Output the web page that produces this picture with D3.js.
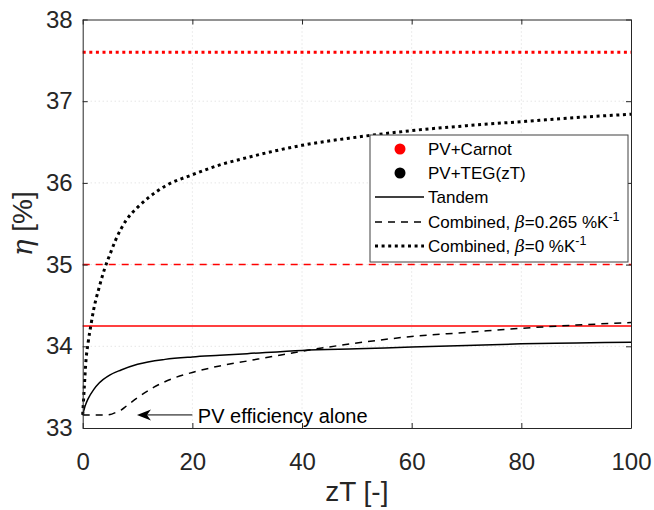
<!DOCTYPE html>
<html><head><meta charset="utf-8">
<script src="https://cdn.jsdelivr.net/npm/d3@7"></script>
<style>body{margin:0;background:#fff}svg{display:block}text{font-family:"Liberation Sans",Arial,sans-serif}</style>
</head><body>
<svg id="c" width="654" height="510"></svg>
<script>
// Data
const xTicks = [0, 20, 40, 60, 80, 100];
const yTicks = [33, 34, 35, 36, 37, 38];
const pvAlone = 33.16;
const carnotTandem = 34.25;
const carnotCombined265 = 35.0;
const carnotCombined0 = 37.6;
const tandemZT = [0, 0.5, 1, 2, 3, 5, 7, 10, 15, 20, 25, 30, 40, 50, 60, 70, 80, 90, 100];
const tandemEta = [33.16, 33.28, 33.36, 33.47, 33.55, 33.65, 33.71, 33.78, 33.84, 33.87, 33.89, 33.91, 33.95, 33.97, 33.99, 34.01, 34.03, 34.04, 34.05];
const comb265ZT = [0, 3, 4, 5, 6, 7, 8, 10, 13, 17, 20, 25, 30, 35, 40, 50, 60, 70, 80, 90, 100];
const comb265Eta = [33.16, 33.16, 33.16, 33.165, 33.19, 33.22, 33.27, 33.37, 33.50, 33.62, 33.68, 33.76, 33.82, 33.88, 33.94, 34.04, 34.12, 34.17, 34.22, 34.26, 34.29];
const comb0ZT = [0, 0.3, 0.6, 1, 1.5, 2, 3, 4, 5, 6, 8, 10, 12, 15, 20, 25, 30, 40, 50, 60, 70, 80, 90, 100];
const comb0Eta = [33.16, 33.51, 33.83, 34.05, 34.26, 34.45, 34.72, 34.95, 35.13, 35.30, 35.55, 35.70, 35.82, 35.96, 36.10, 36.22, 36.31, 36.46, 36.56, 36.64, 36.70, 36.75, 36.80, 36.84];

const svg = d3.select("#c");
const L = 82.7, R = 631, T = 19.5, B = 428;
const x = d3.scaleLinear().domain([0, 100]).range([L, R]);
const y = d3.scaleLinear().domain([33, 38]).range([B, T]);
const axisCol = "#262626";
const FONT = '"Liberation Sans",Arial,sans-serif';

// grid
const g = svg.append("g");
g.selectAll(".gx").data(xTicks.slice(1, -1)).enter().append("line")
  .attr("x1", d => x(d)).attr("x2", d => x(d)).attr("y1", T).attr("y2", B)
  .attr("stroke", "#d9d9d9").attr("stroke-width", 1).attr("stroke-dasharray", "1,3");
g.selectAll(".gy").data(yTicks.slice(1, -1)).enter().append("line")
  .attr("y1", d => y(d)).attr("y2", d => y(d)).attr("x1", L).attr("x2", R)
  .attr("stroke", "#d9d9d9").attr("stroke-width", 1).attr("stroke-dasharray", "1,3");

// horizontal reference lines
function hline(v, col, w, dash) {
  svg.append("line").attr("x1", L).attr("x2", R).attr("y1", y(v)).attr("y2", y(v))
    .attr("stroke", col).attr("stroke-width", w).attr("stroke-dasharray", dash || null);
}
hline(carnotCombined0, "#ff0000", 3, "3,3.6");
hline(carnotCombined265, "#ff0000", 1.5, "7,6");
hline(carnotTandem, "#ff0000", 1.5);

const line = d3.line().x(d => x(d[0])).y(d => y(d[1])).curve(d3.curveMonotoneX);
function curve(xs, ys, w, dash) {
  svg.append("path").datum(xs.map((v, i) => [v, ys[i]])).attr("d", line)
    .attr("fill", "none").attr("stroke", "#000").attr("stroke-width", w)
    .attr("stroke-dasharray", dash || null);
}
curve(tandemZT, tandemEta, 1.5);
curve(comb265ZT, comb265Eta, 1.5, "7,6");
curve(comb0ZT, comb0Eta, 3, "3,3.6");

// axes
const ax = svg.append("g").attr("transform", `translate(0,${B})`)
  .call(d3.axisBottom(x).tickValues(xTicks).tickSizeInner(-5).tickSizeOuter(0).tickPadding(25).tickFormat(d3.format("d")));
const ay = svg.append("g").attr("transform", `translate(${L},0)`)
  .call(d3.axisLeft(y).tickValues(yTicks).tickSizeInner(-5).tickSizeOuter(0).tickPadding(10).tickFormat(d3.format("d")));
const at = svg.append("g").attr("transform", `translate(0,${T})`)
  .call(d3.axisTop(x).tickValues(xTicks).tickSizeInner(-5).tickSizeOuter(0).tickFormat(""));
const ar = svg.append("g").attr("transform", `translate(${R},0)`)
  .call(d3.axisRight(y).tickValues(yTicks).tickSizeInner(-5).tickSizeOuter(0).tickFormat(""));
[ax, ay, at, ar].forEach(a => {
  a.selectAll("path,line").attr("stroke", axisCol);
  a.selectAll("text").attr("fill", axisCol).style("font-size", "24px").style("font-family", FONT);
});

// axis labels
svg.append("text").attr("x", (L + R) / 2).attr("y", 501).attr("text-anchor", "middle")
  .attr("fill", axisCol).style("font-size", "28px").text("zT [-]");
const yl = svg.append("text").attr("transform", `translate(32,${(T + B) / 2}) rotate(-90)`)
  .attr("text-anchor", "middle").attr("fill", axisCol).style("font-size", "28px");
yl.append("tspan").style("font-style", "italic").style("font-family", '"DejaVu Serif",serif').text("η");
yl.append("tspan").text(" [%]");

// annotation
svg.append("line").attr("x1", x(20)).attr("x2", x(10.5)).attr("y1", y(pvAlone)).attr("y2", y(pvAlone))
  .attr("stroke", "#000").attr("stroke-width", 1);
svg.append("path").attr("d", `M${x(9.9)},${y(pvAlone)} l14,-5.5 l-4,5.5 l4,5.5 z`).attr("fill", "#000");
svg.append("text").attr("x", x(21)).attr("y", y(pvAlone) + 8).attr("fill", "#000")
  .style("font-size", "20px").text("PV efficiency alone");

// legend
const lg = svg.append("g");
lg.append("rect").attr("x", 370).attr("y", 135).attr("width", 258).attr("height", 127)
  .attr("fill", "#fff").attr("stroke", "#404040").attr("stroke-width", 1);
const legendRows = [
  {label: "PV+Carnot", type: "dot", col: "#ff0000"},
  {label: "PV+TEG(zT)", type: "dot", col: "#000"},
  {label: "Tandem", type: "line", w: 1.5},
  {label: "Combined, ", beta: "0.265", type: "line", w: 1.5, dash: "7,6"},
  {label: "Combined, ", beta: "0", type: "line", w: 3, dash: "3,3.6"}
];
const rowY = [149, 173, 197, 222, 246];
legendRows.forEach((r, i) => {
  const yy = rowY[i];
  if (r.type === "dot") {
    lg.append("circle").attr("cx", 400).attr("cy", yy).attr("r", 5.5).attr("fill", r.col);
  } else {
    lg.append("line").attr("x1", 375).attr("x2", 424).attr("y1", yy).attr("y2", yy)
      .attr("stroke", "#000").attr("stroke-width", r.w).attr("stroke-dasharray", r.dash || null);
  }
  const t = lg.append("text").attr("x", 428).attr("y", yy + 6).attr("fill", "#000").style("font-size", "17px");
  t.append("tspan").text(r.label);
  if (r.beta !== undefined) {
    t.append("tspan").style("font-style", "italic").style("font-family", '"DejaVu Serif",serif').text("β");
    t.append("tspan").text("=" + r.beta + " %K");
    t.append("tspan").attr("dy", -7).style("font-size", "12.5px").text("-1");
  }
});
</script>
</body></html>
